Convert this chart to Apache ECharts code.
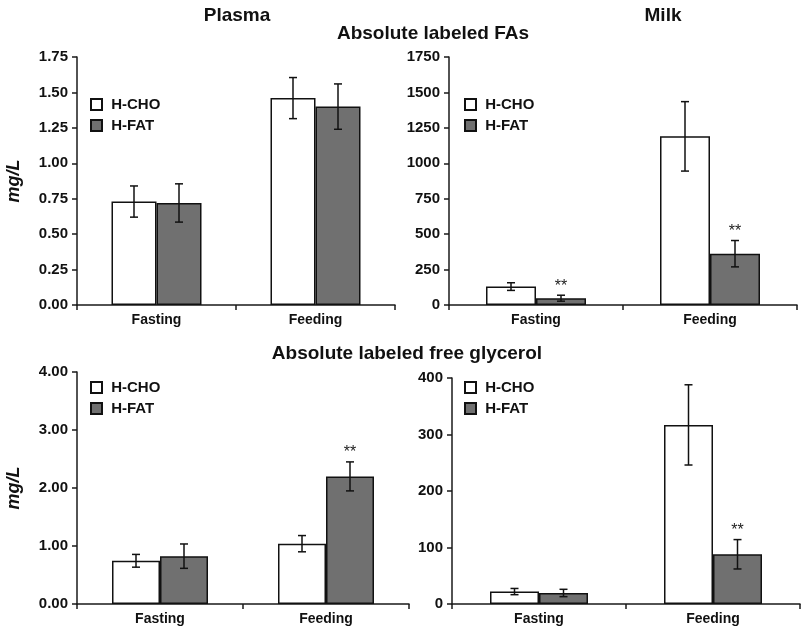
<!DOCTYPE html>
<html>
<head>
<meta charset="utf-8">
<script src="https://cdn.jsdelivr.net/npm/echarts@6/dist/echarts.min.js"></script>
<style>html,body{margin:0;padding:0;background:#fff}#c{width:801px;height:628px}</style>
</head>
<body>
<div id="c"></div>
<script>
// ---- data ----
const categories = ['Fasting', 'Feeding'];
const seriesNames = ['H-CHO', 'H-FAT'];

const plasmaFA_cho = [0.73, 1.46];
const plasmaFA_cho_err = [0.11, 0.145];
const plasmaFA_fat = [0.72, 1.40];
const plasmaFA_fat_err = [0.135, 0.16];

const milkFA_cho = [130, 1190];
const milkFA_cho_err = [27, 245];
const milkFA_fat = [48, 362];
const milkFA_fat_err = [21, 93];

const plasmaGly_cho = [0.745, 1.04];
const plasmaGly_cho_err = [0.11, 0.14];
const plasmaGly_fat = [0.825, 2.20];
const plasmaGly_fat_err = [0.21, 0.25];

const milkGly_cho = [22, 317];
const milkGly_cho_err = [5.5, 71];
const milkGly_fat = [19.5, 88];
const milkGly_fat_err = [6.5, 26];

const milkFA_fat_sig = [true, true];
const plasmaGly_fat_sig = [false, true];
const milkGly_fat_sig = [false, true];

const plasmaFA_ticks = {min: 0, max: 1.75, interval: 0.25, digits: 2};
const milkFA_ticks = {min: 0, max: 1750, interval: 250, digits: 0};
const plasmaGly_ticks = {min: 0, max: 4, interval: 1, digits: 2};
const milkGly_ticks = {min: 0, max: 400, interval: 100, digits: 0};

// ---- layout / style ----
const FONT = 'Liberation Sans, Arial, sans-serif';
const WHITE = '#ffffff';
const GRAY = '#707070';
const panels = [
  {grid: {left: 77, top: 57, width: 318, height: 248}, bw: 45, ticks: plasmaFA_ticks,
   cho: plasmaFA_cho, choErr: plasmaFA_cho_err, fat: plasmaFA_fat, fatErr: plasmaFA_fat_err, sig: [false, false], yName: 'mg/L',
   legend: {left: 85, top: 92}},
  {grid: {left: 449, top: 57, width: 348, height: 248}, bw: 50, ticks: milkFA_ticks,
   cho: milkFA_cho, choErr: milkFA_cho_err, fat: milkFA_fat, fatErr: milkFA_fat_err, sig: milkFA_fat_sig, yName: '',
   legend: {left: 459, top: 92}},
  {grid: {left: 77, top: 372, width: 332, height: 232}, bw: 48, ticks: plasmaGly_ticks,
   cho: plasmaGly_cho, choErr: plasmaGly_cho_err, fat: plasmaGly_fat, fatErr: plasmaGly_fat_err, sig: plasmaGly_fat_sig, yName: 'mg/L',
   legend: {left: 85, top: 375}},
  {grid: {left: 452, top: 378, width: 348, height: 226}, bw: 49, ticks: milkGly_ticks,
   cho: milkGly_cho, choErr: milkGly_cho_err, fat: milkGly_fat, fatErr: milkGly_fat_err, sig: milkGly_fat_sig, yName: '',
   legend: {left: 459, top: 375}}
];

const grids = [], xAxes = [], yAxes = [], series = [], legends = [];
panels.forEach((p, i) => {
  grids.push(p.grid);
  xAxes.push({
    type: 'category', gridIndex: i, data: categories,
    axisLine: {lineStyle: {color: '#1a1a1a', width: 1.5}},
    axisTick: {show: true, length: 5, lineStyle: {color: '#1a1a1a', width: 1.5}},
    axisLabel: {color: '#111', fontFamily: FONT, fontWeight: 'bold', fontSize: 14, margin: 8}
  });
  yAxes.push({
    type: 'value', gridIndex: i, min: p.ticks.min, max: p.ticks.max, interval: p.ticks.interval,
    splitLine: {show: false},
    axisLine: {show: true, lineStyle: {color: '#1a1a1a', width: 1.5}},
    axisTick: {show: true, length: 5, lineStyle: {color: '#1a1a1a', width: 1.5}},
    axisLabel: {color: '#111', fontFamily: FONT, fontWeight: 'bold', fontSize: 15, margin: 9,
      formatter: v => v.toFixed(p.ticks.digits)},
    name: p.yName, nameLocation: 'middle', nameGap: 54, nameRotate: 90,
    nameTextStyle: {color: '#111', fontFamily: FONT, fontWeight: 'bold', fontStyle: 'italic', fontSize: 18}
  });
  const barStyle = (c) => ({color: c, borderColor: '#111', borderWidth: 1.5});
  series.push({name: 'H-CHO', type: 'bar', xAxisIndex: i, yAxisIndex: i, data: p.cho, barWidth: p.bw, barGap: '0%',
    itemStyle: barStyle(WHITE), silent: true, animation: false});
  series.push({name: 'H-FAT', type: 'bar', xAxisIndex: i, yAxisIndex: i, data: p.fat, barWidth: p.bw, barGap: '0%',
    itemStyle: barStyle(GRAY), silent: true, animation: false});
  const errData = [];
  p.cho.forEach((v, k) => errData.push([k, v, p.choErr[k], -1, 0]));
  p.fat.forEach((v, k) => errData.push([k, v, p.fatErr[k], 1, p.sig[k] ? 1 : 0]));
  series.push({
    type: 'custom', xAxisIndex: i, yAxisIndex: i, data: errData, silent: true, animation: false, z: 10,
    renderItem: (params, api) => {
      const k = api.value(0), v = api.value(1), e = api.value(2), side = api.value(3), sig = api.value(4);
      const c = api.coord([k, v]);
      const x = c[0] + side * p.bw / 2;
      const top = api.coord([k, v + e])[1];
      const bot = api.coord([k, v - e])[1];
      const ls = {stroke: '#111', lineWidth: 1.5};
      const children = [
        {type: 'line', shape: {x1: x, y1: top, x2: x, y2: bot}, style: ls},
        {type: 'line', shape: {x1: x - 4, y1: top, x2: x + 4, y2: top}, style: ls},
        {type: 'line', shape: {x1: x - 4, y1: bot, x2: x + 4, y2: bot}, style: ls}
      ];
      if (sig) {
        children.push({type: 'text', style: {text: '**', x: x, y: top - 1, align: 'center', verticalAlign: 'bottom',
          fill: '#222', font: '16px ' + FONT}});
      }
      return {type: 'group', children: children};
    }
  });
  legends.push({
    data: seriesNames, left: p.legend.left, top: p.legend.top, orient: 'vertical',
    icon: 'rect', itemWidth: 11, itemHeight: 11, itemGap: 6, selectedMode: false,
    itemStyle: {borderColor: '#111', borderWidth: 2},
    formatter: n => ' ' + n,
    textStyle: {color: '#111', fontFamily: FONT, fontWeight: 'bold', fontSize: 15}
  });
});

const titleStyle = {color: '#111', fontFamily: FONT, fontWeight: 'bold', fontSize: 19};
const option = {
  backgroundColor: '#fff',
  animation: false,
  title: [
    {text: 'Plasma', left: 232, top: 1, textAlign: 'center', textStyle: titleStyle},
    {text: 'Milk', left: 658, top: 1, textAlign: 'center', textStyle: titleStyle},
    {text: 'Absolute labeled FAs', left: 428, top: 19, textAlign: 'center', textStyle: titleStyle},
    {text: 'Absolute labeled free glycerol', left: 402, top: 339, textAlign: 'center', textStyle: titleStyle}
  ],
  legend: legends,
  grid: grids,
  xAxis: xAxes,
  yAxis: yAxes,
  series: series
};
const chart = echarts.init(document.getElementById('c'), null, {renderer: 'canvas'});
chart.setOption(option);
</script>
</body>
</html>
